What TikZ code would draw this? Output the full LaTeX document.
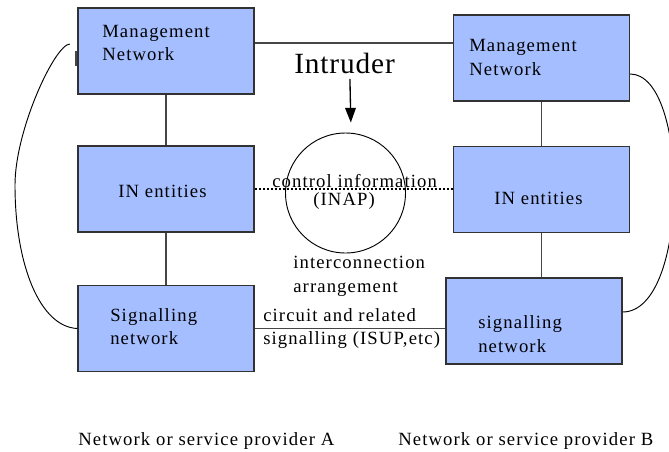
\documentclass[tikz,border=0pt]{standalone}
\usepackage{fontspec}
\setmainfont[LetterSpace=6]{Liberation Serif}
\newfontfamily\titlefont[LetterSpace=3]{Liberation Serif}
\usetikzlibrary{arrows.meta}

\definecolor{boxblue}{RGB}{164,190,255}
\definecolor{edgegray}{RGB}{50,50,50}
\definecolor{linkgray}{RGB}{70,70,70}

\tikzset{
  netbox/.style={draw=edgegray, fill=boxblue, line width=0.9pt, inner sep=0pt,
                 minimum width=132pt, minimum height=64.5pt},
  lbl/.style={inner sep=0pt, anchor=base west, font=\fontsize{14}{16}\selectfont},
  biglbl/.style={inner sep=0pt, anchor=base west, font=\titlefont\fontsize{22}{24}\selectfont},
  link/.style={draw=linkgray, line width=1pt},
  ctrllink/.style={draw=black, line width=1.3pt, dash pattern=on 1.5pt off 1.5pt},
  loop/.style={draw=black, line width=0.7pt},
  zone/.style={draw=black, line width=0.7pt, circle, inner sep=0pt, minimum size=90pt}
}

\begin{document}
\begin{tikzpicture}[x=0.75pt, y=-0.75pt]
  \useasboundingbox (0,0) rectangle (669,451);

  % provider A
  \node[netbox] (lmn) at (166,51) {};
  \node[netbox] (lin) at (166,189) {};
  \node[netbox] (lsn) at (166,328.5) {};

  % provider B
  \node[netbox] (rmn) at (541.5,58) {};
  \node[netbox] (rin) at (541.5,189.5) {};
  \node[netbox] (rsn) at (534,321) {};

  % interconnection zone and intruder
  \node[zone] (zone) at (345.5,193) {};
  \node[biglbl] (intr) at (294,73) {Intruder};

  % box texts
  \node[lbl] (lmnA) at (102,37) {Management};
  \node[lbl] (lmnB) at (102,60) {Network};
  \node[lbl] (rmnA) at (469,51) {Management};
  \node[lbl] (rmnB) at (469,75) {Network};
  \node[lbl] (linT) at (118,197) {IN entities};
  \node[lbl] (rinT) at (494,204) {IN entities};
  \node[lbl] (lsnA) at (110,321) {Signalling};
  \node[lbl] (lsnB) at (110,344) {network};
  \node[lbl] (rsnA) at (478,328) {signalling};
  \node[lbl] (rsnB) at (478,352) {network};

  % link labels
  \node[lbl] (ctlA) at (272,187) {control information};
  \node[lbl] (ctlB) at (313,205) {(INAP)};
  \node[lbl] (icA) at (293,268) {interconnection};
  \node[lbl] (icB) at (293,292) {arrangement};
  \node[lbl] (ckA) at (263,321) {circuit and related};
  \node[lbl] (ckB) at (263,344) {signalling (ISUP,etc)};

  % provider captions
  \node[lbl] (capA) at (78,445) {Network or service provider A};
  \node[lbl] (capB) at (398,445) {Network or service provider B};

  % links inside each provider
  \draw[link] (lmn.south) -- (lin.north);
  \draw[link] (lin.south) -- (lsn.north);
  \draw[link] (rmn.south) -- (rin.north);
  \draw[link] (rin.south) -- (rin.south |- rsn.north);

  % links between providers
  \coordinate (toprow) at (0,43);
  \draw[link] (lmn.east |- toprow) -- (rmn.west |- toprow);
  \draw[link] (lsn.east) -- (lsn.east -| rsn.west);
  \draw[ctrllink] (lin.east) -- (lin.east -| rin.west);

  % intruder arrow
  \draw[line width=1pt, -{Triangle[length=11pt, width=8pt]}]
    ([xshift=4pt, yshift=-4pt]intr.south) -- ([xshift=4pt, yshift=7.5pt]zone.north);

  % outer loops
  \coordinate (lstart) at (70,44);
  \draw[loop] (lstart) .. controls (55,44) and (15,130) .. (15,185)
                       .. controls (15,265) and (40,327) .. (lsn.west);
  \draw[draw=linkgray, line width=1.5pt] ([xshift=-1pt]lmn.west) -- ([xshift=-1pt, yshift=-11.25pt]lmn.west);
  \draw[loop] ([yshift=-12pt]rmn.east) .. controls (690,74) and (690,312)
                                       .. ([yshift=6.75pt]rsn.east);
\end{tikzpicture}
\end{document}
